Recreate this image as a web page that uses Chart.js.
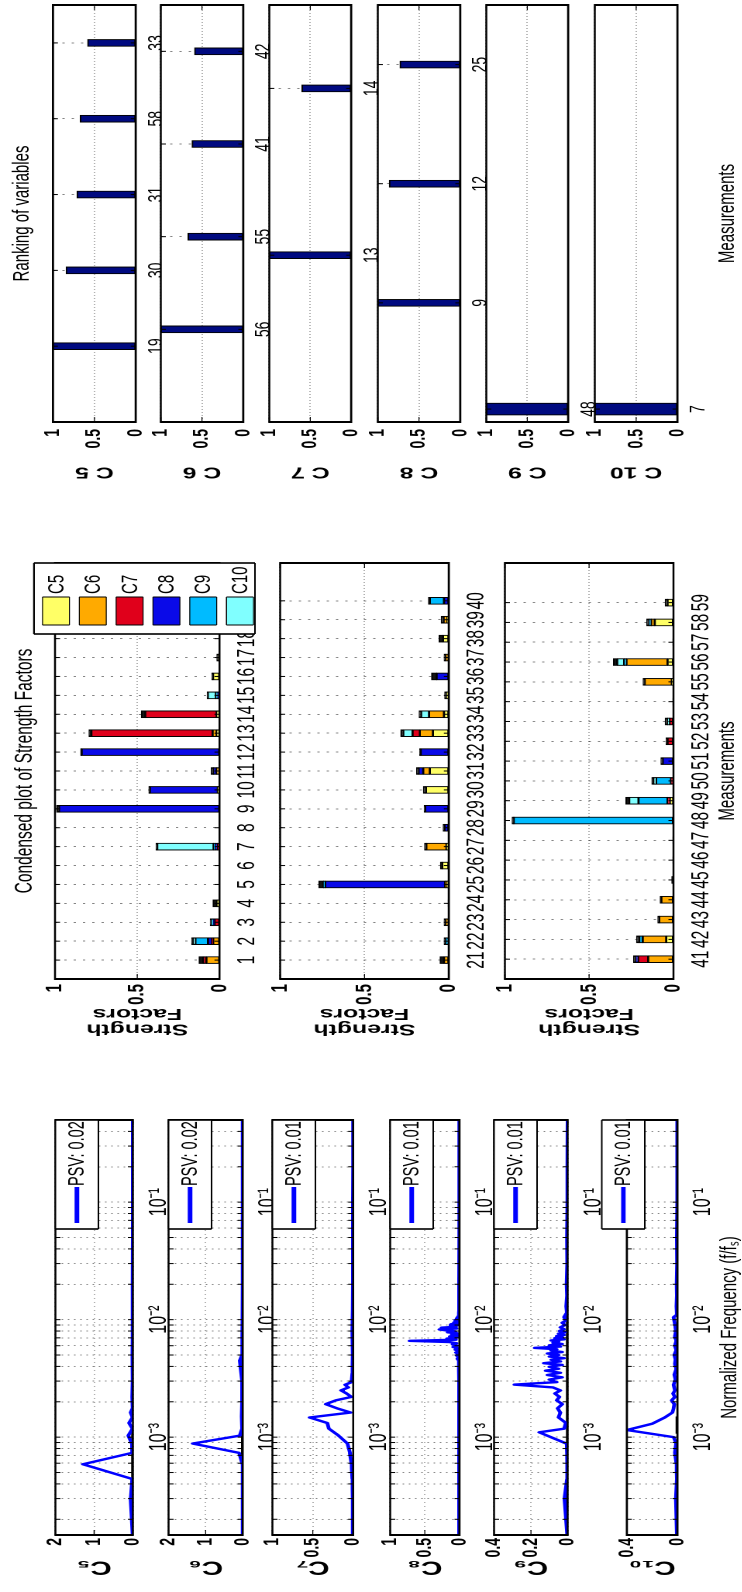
<!DOCTYPE html>
<html>
<head>
<meta charset="utf-8">
<title>Strength factors</title>
<script src="https://cdn.jsdelivr.net/npm/chart.js@4.4.1/dist/chart.umd.min.js"></script>
<style>
  html, body { margin: 0; padding: 0; background: #fff; overflow: hidden; }
  /* figure is laid out landscape, stretched vertically, then turned a quarter */
  #fig { position: absolute; left: 0; top: 0; width: 1592px; height: 479px;
         transform-origin: 0 0; transform: translate(0, 1592px) rotate(-90deg) scale(1, 1.55); }
  #fig canvas { position: absolute; }
</style>
</head>
<body>
<div id="fig"></div>
<script>
// ---- spectra: [normalized frequency, amplitude] ----
var specC5 = [[0.000147,0.01],[0.000294,0.06],[0.000441,0.02],[0.000588,1.29],[0.000735,0.02],[0.000882,0.03],
  [0.00103,0.12],[0.00118,0.01],[0.00132,0.10],[0.00147,0.01],[0.00162,0.06],[0.00176,0.01],[0.0022,0.02],
  [0.003,0.01],[0.005,0.015],[0.007,0.01],[0.01,0.008],[0.02,0.006],[0.05,0.005],[0.1,0.004],[0.2,0.004],[0.5,0.003]];
var specC6 = [[0.000147,0.005],[0.000294,0.005],[0.000441,0.005],[0.000588,0.008],[0.000735,0.10],[0.000882,1.35],
  [0.00103,0.08],[0.00118,0.02],[0.0015,0.03],[0.002,0.02],[0.003,0.02],[0.0045,0.08],[0.005,0.02],[0.007,0.015],
  [0.01,0.01],[0.02,0.005],[0.05,0.005],[0.1,0.003],[0.5,0.003]];
var specC7 = [[0.000147,0.005],[0.000294,0.005],[0.000441,0.01],[0.000588,0.02],[0.000735,0.04],[0.000882,0.07],
  [0.00103,0.18],[0.00118,0.30],[0.00132,0.32],[0.00147,0.54],[0.00162,0.03],[0.00176,0.20],[0.00191,0.34],
  [0.00206,0.21],[0.0022,0.02],[0.00235,0.08],[0.0025,0.15],[0.00265,0.06],[0.00279,0.10],[0.00294,0.02],
  [0.0035,0.01],[0.005,0.005],[0.008,0.01],[0.012,0.005],[0.02,0.003],[0.05,0.002],[0.1,0.002],[0.2,0.001],[0.5,0.001]];
var specC8 = [[0.000147,0.004],[0.001,0.004],[0.003,0.005],[0.0045,0.01],[0.00465,0.03],[0.0048,0.01],[0.00495,0.04],
  [0.0051,0.02],[0.00525,0.05],[0.0054,0.01],[0.00555,0.06],[0.0057,0.02],[0.00585,0.09],[0.006,0.03],[0.00615,0.10],
  [0.0063,0.04],[0.00645,0.15],[0.0066,0.72],[0.00675,0.05],[0.0069,0.18],[0.00705,0.03],[0.0072,0.14],[0.00735,0.02],
  [0.0075,0.11],[0.00765,0.03],[0.0078,0.17],[0.00795,0.06],[0.0081,0.19],[0.00825,0.29],[0.0084,0.04],[0.00855,0.26],
  [0.0087,0.05],[0.00885,0.13],[0.009,0.02],[0.00915,0.12],[0.0093,0.03],[0.00945,0.08],[0.0096,0.02],[0.00975,0.06],
  [0.0099,0.01],[0.0102,0.04],[0.0108,0.01],[0.012,0.005],[0.02,0.004],[0.05,0.003],[0.1,0.002],[0.5,0.002]];
var specC9 = [[0.000147,0.003],[0.0003,0.018],[0.00044,0.004],[0.00059,0.003],[0.00074,0.004],[0.00088,0.006],
  [0.0011,0.155],[0.00118,0.02],[0.00132,0.01],[0.00147,0.05],[0.00162,0.04],[0.00176,0.055],[0.00191,0.03],
  [0.00206,0.06],[0.0022,0.045],[0.00235,0.07],[0.0025,0.04],[0.00265,0.08],[0.0028,0.29],[0.00294,0.06],
  [0.00309,0.10],[0.00323,0.03],[0.00338,0.11],[0.00353,0.04],[0.00368,0.12],[0.00382,0.05],[0.00397,0.10],
  [0.00412,0.03],[0.00426,0.13],[0.00441,0.04],[0.00456,0.09],[0.0047,0.02],[0.00485,0.10],[0.005,0.05],
  [0.00515,0.11],[0.0053,0.03],[0.00545,0.09],[0.0056,0.06],[0.00575,0.18],[0.0059,0.04],[0.00605,0.10],
  [0.0062,0.03],[0.00635,0.08],[0.0065,0.05],[0.00665,0.09],[0.0068,0.02],[0.00695,0.07],[0.0071,0.03],
  [0.00725,0.06],[0.0074,0.02],[0.0076,0.05],[0.0078,0.015],[0.008,0.045],[0.0083,0.02],[0.0086,0.04],
  [0.009,0.015],[0.0094,0.03],[0.0098,0.01],[0.0105,0.02],[0.0115,0.005],[0.013,0.008],[0.016,0.004],
  [0.02,0.006],[0.03,0.003],[0.05,0.004],[0.1,0.002],[0.2,0.002],[0.5,0.001]];
var specC10 = [[0.000147,0.004],[0.0003,0.012],[0.00044,0.005],[0.00059,0.008],[0.00074,0.02],[0.00088,0.01],
  [0.001,0.03],[0.00115,0.40],[0.0013,0.20],[0.00147,0.10],[0.00162,0.04],[0.00176,0.03],[0.00191,0.025],
  [0.00206,0.045],[0.0022,0.02],[0.00235,0.035],[0.0025,0.02],[0.0028,0.03],[0.0031,0.015],[0.0034,0.025],
  [0.0038,0.01],[0.0042,0.02],[0.0046,0.015],[0.005,0.025],[0.0055,0.01],[0.006,0.02],[0.0066,0.01],[0.0072,0.02],
  [0.008,0.012],[0.009,0.018],[0.0105,0.03],[0.011,0.005],[0.013,0.008],[0.016,0.004],[0.02,0.006],[0.03,0.003],
  [0.05,0.004],[0.1,0.002],[0.2,0.002],[0.5,0.002]];
// black reference line drawn along zero
var baseC5 = [0.00042, 0.00115];
var baseC6 = [0.00068, 0.0012];
var baseC9 = [0.00021, 0.0137];
var baseC10 = [0.00107, 0.0015];
var freqDecades = [0.0001, 0.001, 0.01, 0.1];

// ---- condensed strength factors ----
var compNames = ['C5', 'C6', 'C7', 'C8', 'C9', 'C10', 'rest'];
var sfCat1 = [1,2,3,4,5,6,7,8,9,10,11,12,13,14,15,16,17,18,19,20];
var p1C5  = [0,0,0,.015,0,0,0,0,0,.01,0,0,.018,.018,0,.04,.006,0,0,0];
var p1C6  = [.08,.038,0,0,0,0,0,0,0,0,.018,0,.024,0,0,0,0,0,0,0];
var p1C7  = [.02,.008,.03,0,0,0,.014,0,0,0,0,0,.737,.433,0,0,0,0,0,0];
var p1C8  = [0,.024,.006,0,0,0,.012,0,.976,.413,.02,.838,0,0,.01,0,0,0,0,0];
var p1C9  = [0,.077,.014,0,0,0,.01,0,0,0,0,0,0,0,.012,0,0,0,0,0];
var p1C10 = [0,.012,0,0,0,0,.342,0,0,0,0,0,0,0,.049,0,0,0,0,0];
var p1Rest = [.024,.01,.006,.024,.003,.002,.008,.003,.014,.006,.012,.006,.014,.024,.004,.006,.01,0,0,0];

var sfCat2 = [21,22,23,24,25,26,27,28,29,30,31,32,33,34,35,36,37,38,39,40];
var p2C5  = [0,0,0,0,.01,.039,.014,0,0,.136,.113,0,.094,.029,.014,0,0,.035,.008,0];
var p2C6  = [.029,0,.02,0,.012,0,.119,0,0,0,.039,0,.078,.088,0,0,.02,0,.023,0];
var p2C7  = [0,0,0,0,0,0,0,0,0,0,0,0,.043,0,0,0,0,0,0,0];
var p2C8  = [0,0,0,0,.711,0,0,.025,.14,0,.027,.166,0,0,0,.072,0,0,0,.029];
var p2C9  = [0,.02,0,0,.01,0,0,0,0,0,0,0,0,0,0,0,0,0,0,.084];
var p2C10 = [0,0,0,0,0,0,0,0,0,0,0,0,.055,.047,0,0,0,0,0,0];
var p2Rest = [.023,.008,.007,.004,.028,.01,.01,.008,.006,.014,.012,.006,.015,.012,.01,.03,.007,.023,.014,.008];

var sfCat3 = [41,42,43,44,45,46,47,48,49,50,51,52,53,54,55,56,57,58,59];
var p3C5  = [0,.043,0,0,0,0,0,0,.02,0,0,0,0,0,.01,.035,0,.111,.035];
var p3C6  = [.15,.139,.084,.072,0,0,0,0,0,0,0,0,0,0,.16,.244,0,.021,0];
var p3C7  = [.059,0,0,0,0,0,0,0,.015,.014,0,.035,.023,0,0,0,0,0,0];
var p3C8  = [.015,0,0,0,0,0,0,0,0,0,.063,0,0,0,0,0,0,0,0];
var p3C9  = [0,.021,0,0,0,0,0,.947,.172,.088,0,0,0,0,0,.014,0,.012,0];
var p3C10 = [0,0,0,0,0,0,0,0,.055,.014,0,0,.012,0,0,.041,0,0,0];
var p3Rest = [.012,.016,.008,.006,.01,.003,.003,.01,.02,.012,.011,.008,.014,.003,.01,.022,.003,.014,.014];

// ---- ranking of variables ----
var rankC5Lab = ['19','30','31','58','33'];   var rankC5Val = [1.0, 0.84, 0.71, 0.67, 0.58];
var rankC6Lab = ['56','55','41','42'];        var rankC6Val = [1.0, 0.67, 0.62, 0.59];
var rankC7Lab = ['13','14'];                  var rankC7Val = [1.0, 0.60];
var rankC8Lab = ['9','12','25'];              var rankC8Val = [1.0, 0.86, 0.73];
var rankC9Lab = ['48'];                       var rankC9Val = [1.0];
var rankC10Lab = ['7'];                       var rankC10Val = [1.0];

// ---------------------------------------------------------------
var SY = 1.55;
var FAMILY = "'Liberation Sans', Arial, Helvetica, sans-serif";
var GRID = 'rgba(0,0,0,0.6)';
var compColors = ['#ffff66', '#ffaa00', '#e0001b', '#0a0ae8', '#00bbff', '#80ffff', '#151515'];
var fig = document.getElementById('fig');

Chart.defaults.font.family = FAMILY;
Chart.defaults.color = '#000';
Chart.defaults.animation = false;
Chart.defaults.events = [];
Chart.defaults.plugins.legend.display = false;
Chart.defaults.plugins.tooltip.enabled = false;

// white plot area, inner ticks and a full box like matlab axes
Chart.register({
  id: 'frame',
  beforeDraw: function (chart) {
    var a = chart.chartArea, ctx = chart.ctx;
    ctx.save();
    ctx.fillStyle = '#fff';
    ctx.fillRect(a.left, a.top, a.right - a.left, a.bottom - a.top);
    ctx.restore();
  },
  afterDatasetsDraw: function (chart) {
    var a = chart.chartArea, ctx = chart.ctx, x = chart.scales.x, y = chart.scales.y;
    var tl = 5;
    ctx.save();
    ctx.strokeStyle = '#000';
    ctx.lineWidth = 1;
    ctx.beginPath();
    x.ticks.forEach(function (t) {
      var p = x.getPixelForValue(t.value);
      ctx.moveTo(p, a.bottom); ctx.lineTo(p, a.bottom - tl / SY);
      ctx.moveTo(p, a.top); ctx.lineTo(p, a.top + tl / SY);
    });
    ctx.stroke();
    ctx.lineWidth = 1 / SY;
    ctx.beginPath();
    y.ticks.forEach(function (t) {
      var p = y.getPixelForValue(t.value);
      ctx.moveTo(a.left, p); ctx.lineTo(a.left + tl, p);
      ctx.moveTo(a.right, p); ctx.lineTo(a.right - tl, p);
    });
    ctx.stroke();
    ctx.lineWidth = 2;
    ctx.beginPath();
    ctx.moveTo(a.left, a.top); ctx.lineTo(a.left, a.bottom);
    ctx.moveTo(a.right, a.top); ctx.lineTo(a.right, a.bottom);
    ctx.stroke();
    ctx.lineWidth = 2 / SY;
    ctx.beginPath();
    ctx.moveTo(a.left - 1, a.top); ctx.lineTo(a.right + 1, a.top);
    ctx.moveTo(a.left - 1, a.bottom); ctx.lineTo(a.right + 1, a.bottom);
    ctx.stroke();
    ctx.restore();
  }
});

function boxAround(ctx, x, y, w, h, lw) {
  ctx.lineWidth = lw;
  ctx.beginPath();
  ctx.moveTo(x, y); ctx.lineTo(x, y + h);
  ctx.moveTo(x + w, y); ctx.lineTo(x + w, y + h);
  ctx.stroke();
  ctx.lineWidth = lw / SY;
  ctx.beginPath();
  ctx.moveTo(x, y); ctx.lineTo(x + w, y);
  ctx.moveTo(x, y + h); ctx.lineTo(x + w, y + h);
  ctx.stroke();
}

// "— PSV: x" legend in the upper right corner of each spectrum
Chart.register({
  id: 'psvLegend',
  afterDraw: function (chart, args, opts) {
    if (!opts.on) return;
    var a = chart.chartArea, ctx = chart.ctx, ds = chart.data.datasets[0];
    var w = 109, h = 43 / SY;
    var lx = a.right - w, ly = a.top + opts.dy / SY, cy = ly + h / 2;
    ctx.save();
    ctx.fillStyle = '#fff';
    ctx.fillRect(lx, ly, w, h);
    ctx.strokeStyle = '#000';
    boxAround(ctx, lx, ly, w, h, 1.6);
    ctx.strokeStyle = ds.borderColor;
    ctx.lineWidth = 4.5 / SY;
    ctx.beginPath(); ctx.moveTo(lx + 6, cy); ctx.lineTo(lx + 42, cy); ctx.stroke();
    ctx.fillStyle = '#000';
    ctx.font = '14.5px ' + FAMILY;
    ctx.textBaseline = 'middle';
    ctx.fillText(ds.label, lx + 43, cy + 0.5);
    ctx.restore();
  }
});

// component legend of the condensed plot
Chart.register({
  id: 'compLegend',
  afterDraw: function (chart, args, opts) {
    if (!opts.on) return;
    var a = chart.chartArea, ctx = chart.ctx;
    var w = 71, h = 221 / SY;
    var lx = a.right - w, ly = a.top - 21 / SY;
    ctx.save();
    ctx.fillStyle = '#fff';
    ctx.fillRect(lx, ly, w, h);
    ctx.strokeStyle = '#000';
    boxAround(ctx, lx, ly, w, h, 1.6);
    ctx.font = '15px ' + FAMILY;
    ctx.textBaseline = 'middle';
    chart.data.datasets.filter(function (d) { return d.label !== 'rest'; }).forEach(function (d, i) {
      var cy = ly + (22 + i * 36.8) / SY;
      ctx.fillStyle = d.backgroundColor;
      ctx.fillRect(lx + 9, cy - 13.5 / SY, 28, 27 / SY);
      ctx.strokeStyle = '#000';
      boxAround(ctx, lx + 9, cy - 13.5 / SY, 28, 27 / SY, 1);
      ctx.fillStyle = '#000';
      ctx.fillText(d.label, lx + 40, cy + 0.5);
    });
    ctx.restore();
  }
});

// canvas sized so that the plot area lands on box = [x0, y0, x1, y1]; m = room left, top, right, bottom
function panelCanvas(box, m) {
  var cv = document.createElement('canvas');
  cv.width = Math.round(box[2] - box[0] + m[0] + m[2]);
  cv.height = Math.round((box[3] - box[1] + m[1] + m[3]) / SY);
  cv.style.left = (box[0] - m[0]) + 'px';
  cv.style.top = ((box[1] - m[1]) / SY) + 'px';
  fig.appendChild(cv);
  return cv;
}
function fixWidth(w) { return function (s) { s.width = w; s.paddingTop = 0; s.paddingBottom = 0; }; }
function fixHeight(h) { return function (s) { s.height = h; s.paddingLeft = 0; s.paddingRight = 0; }; }
function setTicks(values) { return function (s) { s.ticks = values.map(function (v) { return {value: v}; }); }; }
function gridX(dash) { return {drawTicks: false, offset: false, color: GRID, lineWidth: 0.8, borderDash: dash}; }
function gridY(dash) { return {drawTicks: false, color: GRID, lineWidth: 0.8 / SY, borderDash: dash}; }
function plain(v) { return String(Math.round(v * 100) / 100); }

var SUP = {'-': '\u207B', '1': '\u00B9', '2': '\u00B2', '3': '\u00B3'};
function powLabel(v) {
  var e = Math.log10(v);
  if (Math.abs(e - Math.round(e)) > 1e-6) return '';
  return '10' + String(Math.round(e)).split('').map(function (c) { return SUP[c]; }).join('');
}
var logTicks = [];
freqDecades.forEach(function (d) {
  for (var k = 1; k <= 9; k++) {
    var v = +(d * k).toPrecision(3);
    if (v > 0.000147 && v < 0.5) logTicks.push(v);
  }
});

// ---------------- spectra column ----------------
var specRows = [[56, 134], [169, 243], [272, 352], [390, 460], [494, 568], [627, 677]];
var spectra = [
  {name: 'C\u2085', pts: specC5, base: baseC5, psv: 'PSV: 0.02', top: 2, step: 1},
  {name: 'C\u2086', pts: specC6, base: baseC6, psv: 'PSV: 0.02', top: 2, step: 1},
  {name: 'C\u2087', pts: specC7, base: [], psv: 'PSV: 0.01', top: 1, step: 0.5},
  {name: 'C\u2088', pts: specC8, base: [], psv: 'PSV: 0.01', top: 1, step: 0.5},
  {name: 'C\u2089', pts: specC9, base: baseC9, psv: 'PSV: 0.01', top: 0.4, step: 0.2},
  {name: 'C\u2081\u2080', pts: specC10, base: baseC10, psv: 'PSV: 0.01', top: 0.4, step: 0.2}
];
spectra.forEach(function (s, i) {
  var last = i === spectra.length - 1;
  var box = [57, specRows[i][0], 472, specRows[i][1]];
  var m = [57, last ? 27 : 12, 8, last ? 742 - box[3] : specRows[i + 1][0] - box[3] + 1];
  new Chart(panelCanvas(box, m), {
    type: 'line',
    data: {datasets: [
      {label: s.psv, data: s.pts.map(function (p) { return {x: p[0], y: p[1]}; }),
       borderColor: '#0000ff', borderWidth: 2.4, pointRadius: 0, borderJoinStyle: 'round'},
      {label: 'base', data: s.base.map(function (f) { return {x: f, y: 0}; }),
       borderColor: '#000', borderWidth: 2.4, pointRadius: 0}
    ]},
    options: {
      responsive: false, devicePixelRatio: 2,
      layout: {padding: {left: 0, right: m[2], top: m[1] / SY, bottom: 0}},
      plugins: {psvLegend: {on: true, dy: last ? -25 : 0}},
      scales: {
        x: {type: 'logarithmic', min: 0.000147, max: 0.5,
            afterBuildTicks: setTicks(logTicks), afterFit: fixHeight(m[3] / SY),
            grid: gridX([1, 3]), border: {display: false, dash: [1, 3]},
            ticks: {autoSkip: false, maxRotation: 0, padding: 7, font: {size: 16}, callback: powLabel},
            title: {display: last, text: 'Normalized Frequency (f/f\u209B)',
                    font: {size: 15, lineHeight: 1}, padding: {top: 0, bottom: 0.5}}},
        y: {min: 0, max: s.top,
            ticks: {stepSize: s.step, padding: 3, font: {size: 14, weight: 'bold'}, callback: plain},
            afterFit: fixWidth(57), grid: gridY([1, 3]), border: {display: false, dash: [1, 3]},
            title: {display: true, text: s.name, font: {size: 19, weight: 'bold', lineHeight: 1},
                    padding: {top: 16, bottom: 0}}}
      }
    }
  });
});

// ---------------- condensed plot of strength factors ----------------
var sfRows = [[55, 220], [280, 448], [505, 673]];
var sfPanels = [
  {cats: sfCat1, min: 0, max: 22, vals: [p1C5, p1C6, p1C7, p1C8, p1C9, p1C10, p1Rest]},
  {cats: sfCat2, min: 20, max: 42, vals: [p2C5, p2C6, p2C7, p2C8, p2C9, p2C10, p2Rest]},
  {cats: sfCat3, min: 40, max: 61, vals: [p3C5, p3C6, p3C7, p3C8, p3C9, p3C10, p3Rest]}
];
sfPanels.forEach(function (p, i) {
  var first = i === 0, last = i === sfPanels.length - 1;
  var box = [613, sfRows[i][0], 1029, sfRows[i][1]];
  var m = [73, first ? 55 : 12, 4, last ? 742 - box[3] : sfRows[i + 1][0] - box[3] + 1];
  var tTop = 25 / SY - 7.5;
  new Chart(panelCanvas(box, m), {
    type: 'bar',
    data: {datasets: compNames.map(function (name, j) {
      return {label: name, data: p.cats.map(function (c, k) { return {x: c, y: p.vals[j][k]}; }),
              backgroundColor: compColors[j], borderColor: '#000', borderWidth: 1,
              borderSkipped: false, barThickness: 7};
    })},
    options: {
      responsive: false, devicePixelRatio: 2,
      layout: {padding: {left: 0, right: m[2], top: first ? 0 : m[1] / SY, bottom: 0}},
      plugins: {
        compLegend: {on: first},
        title: {display: first, text: 'Condensed plot of Strength Factors', fullSize: false, color: '#000',
                font: {size: 15.5, weight: 'normal', lineHeight: 1},
                padding: {top: tTop, bottom: 55 / SY - 15.5 - tTop}}
      },
      scales: {
        x: {type: 'linear', stacked: true, min: p.min, max: p.max, offset: false,
            afterBuildTicks: setTicks(p.cats), afterFit: fixHeight(m[3] / SY),
            grid: gridX([1.5, 4.5]), border: {display: false, dash: [1.5, 4.5]},
            ticks: {autoSkip: false, maxRotation: 0, padding: 9, font: {size: 15.5}},
            title: {display: last, text: 'Measurements', font: {size: 15, lineHeight: 1},
                    padding: {top: 0, bottom: 15 / SY - 7.5}}},
        y: {stacked: true, min: 0, max: 1,
            ticks: {stepSize: 0.5, padding: 5, font: {size: 15, weight: 'bold'}, callback: plain},
            afterFit: fixWidth(73), grid: gridY([1, 2]), border: {display: false, dash: [1, 2]},
            title: {display: true, text: ['Strength', 'Factors'],
                    font: {size: 16, weight: 'bold', lineHeight: 0.97}, padding: {top: 15.25, bottom: 0}}}
      }
    }
  });
});

// ---------------- ranking of variables ----------------
var rankRows = [[53, 135], [161, 243], [270, 352], [378, 460], [487, 569], [595, 677]];
var ranking = [
  {name: 'C 5', labels: rankC5Lab, vals: rankC5Val},
  {name: 'C 6', labels: rankC6Lab, vals: rankC6Val},
  {name: 'C 7', labels: rankC7Lab, vals: rankC7Val},
  {name: 'C 8', labels: rankC8Lab, vals: rankC8Val},
  {name: 'C 9', labels: rankC9Lab, vals: rankC9Val},
  {name: 'C 10', labels: rankC10Lab, vals: rankC10Val}
];
ranking.forEach(function (r, i) {
  var first = i === 0, last = i === ranking.length - 1;
  var n = r.vals.length;
  var box = [1170, rankRows[i][0], 1587, rankRows[i][1]];
  var m = [75, first ? 53 : 12, 5, last ? 742 - box[3] : rankRows[i + 1][0] - box[3] + 1];
  var tTop = 22 / SY - 7.5;
  new Chart(panelCanvas(box, m), {
    type: 'bar',
    data: {datasets: [{label: r.name, data: r.vals.map(function (v, k) { return {x: k + 1, y: v}; }),
                       backgroundColor: '#000a80', borderColor: '#000', borderWidth: 1,
                       borderSkipped: false, barThickness: n === 1 ? 12 : 7}]},
    options: {
      responsive: false, devicePixelRatio: 2,
      layout: {padding: {left: 0, right: m[2], top: first ? 0 : m[1] / SY, bottom: 0}},
      plugins: {
        title: {display: first, text: 'Ranking of variables', fullSize: false, color: '#000',
                font: {size: 15, weight: 'normal', lineHeight: 1},
                padding: {top: tTop, bottom: 53 / SY - 15 - tTop}}
      },
      scales: {
        x: {type: 'linear', min: n === 1 ? 0.984 : 0, max: n + 0.5, offset: false,
            afterBuildTicks: setTicks(r.vals.map(function (v, k) { return k + 1; })),
            afterFit: fixHeight(m[3] / SY),
            grid: gridX([1.5, 4.5]), border: {display: false, dash: [1.5, 4.5]},
            ticks: {autoSkip: false, maxRotation: 0, padding: 5, font: {size: 14},
                    callback: function (v) { return r.labels[v - 1]; }},
            title: {display: last, text: 'Measurements', font: {size: 15, lineHeight: 1},
                    padding: {top: 0, bottom: 15 / SY - 7.5}}},
        y: {min: 0, max: 1,
            ticks: {stepSize: 0.5, padding: 7, font: {size: 14, weight: 'bold'}, callback: plain},
            afterFit: fixWidth(75), grid: gridY([1, 2]), border: {display: false, dash: [1, 2]},
            title: {display: true, text: r.name, font: {size: 16, weight: 'bold', lineHeight: 1},
                    padding: {top: 17, bottom: 0}}}
      }
    }
  });
});
</script>
</body>
</html>
